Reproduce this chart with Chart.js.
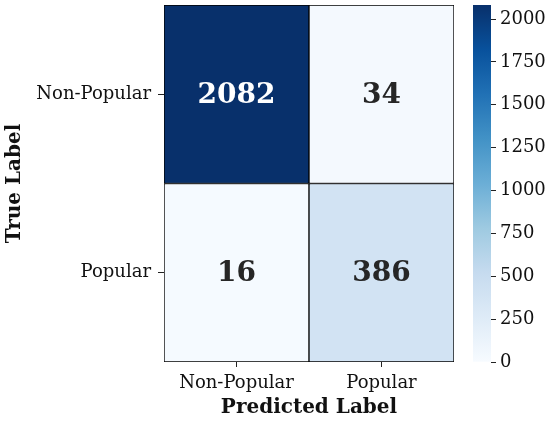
<!DOCTYPE html>
<html lang="en">
  <head>
    <meta charset="utf-8">
    <title>Confusion matrix</title>
    <style>
      body { margin: 0; background: #fff; }
      #wrap { position: relative; width: 550px; height: 422px; }
      #wrap canvas { position: absolute; top: 0; }
    </style>
  </head>
  <body>
    <div id="wrap">
      <canvas id="matrix" width="550" height="422" style="left:0"></canvas>
      <canvas id="colorbar" width="90" height="422" style="left:460px"></canvas>
    </div>

    <script src="https://cdn.jsdelivr.net/npm/chart.js@4/dist/chart.umd.min.js"></script>
    <script>
      // --- data ---
      var predictedLabels = ['Non-Popular', 'Popular'];   // columns
      var trueLabels = ['Non-Popular', 'Popular'];        // rows, top to bottom
      var rowNonPopular = [2082, 34];
      var rowPopular = [16, 386];
      var colorbarTicks = [0, 250, 500, 750, 1000, 1250, 1500, 1750, 2000];

      var matrix = [rowNonPopular, rowPopular];
      var vmax = Math.max.apply(null, rowNonPopular.concat(rowPopular));

      // matplotlib "Blues"
      var BLUES = ['#f7fbff', '#deebf7', '#c6dbef', '#9ecae1', '#6baed6', '#4292c6', '#2171b5', '#08519c', '#08306b'];
      function hexRgb(h) {
        return [parseInt(h.substr(1, 2), 16), parseInt(h.substr(3, 2), 16), parseInt(h.substr(5, 2), 16)];
      }
      function blues(t) {
        t = Math.max(0, Math.min(1, t));
        var p = t * (BLUES.length - 1);
        var i = Math.min(Math.floor(p), BLUES.length - 2);
        var f = p - i;
        var a = hexRgb(BLUES[i]), b = hexRgb(BLUES[i + 1]);
        return [0, 1, 2].map(function (k) { return Math.round(a[k] + (b[k] - a[k]) * f); });
      }
      function rgbStr(c) { return 'rgb(' + c.join(',') + ')'; }
      function luminance(c) {
        var l = c.map(function (v) {
          v = v / 255;
          return v <= 0.03928 ? v / 12.92 : Math.pow((v + 0.055) / 1.055, 2.4);
        });
        return 0.2126 * l[0] + 0.7152 * l[1] + 0.0722 * l[2];
      }

      var serif = 'DejaVu Serif';
      var textColor = '#111';

      // no extra room for half tick labels at the ends
      function noEdgePadding(s) {
        s.paddingTop = 0; s.paddingBottom = 0; s.paddingLeft = 0; s.paddingRight = 0;
      }

      // one stacked dataset per row, bottom row first; each cell is one unit tall
      var datasets = [];
      for (var r = matrix.length - 1; r >= 0; r--) {
        datasets.push({
          label: trueLabels[r],
          row: r,
          data: matrix[r].map(function () { return 1; }),
          backgroundColor: matrix[r].map(function (v) { return rgbStr(blues(v / vmax)); }),
          borderColor: '#000',
          borderWidth: 1,
          borderSkipped: false,
          barPercentage: 1,
          categoryPercentage: 1
        });
      }

      // write the counts in the middle of each cell
      var annotate = {
        id: 'annotate',
        afterDatasetsDraw: function (chart) {
          var ctx = chart.ctx;
          ctx.save();
          ctx.font = 'bold 28px "' + serif + '"';
          ctx.textAlign = 'center';
          ctx.textBaseline = 'middle';
          chart.data.datasets.forEach(function (ds, di) {
            chart.getDatasetMeta(di).data.forEach(function (bar, ci) {
              var v = matrix[ds.row][ci];
              ctx.fillStyle = luminance(blues(v / vmax)) > 0.408 ? '#262626' : '#ffffff';
              ctx.fillText(String(v), bar.x, (bar.y + bar.base) / 2 + 1);
            });
          });
          ctx.restore();
        }
      };

      new Chart(document.getElementById('matrix'), {
        type: 'bar',
        data: { labels: predictedLabels, datasets: datasets },
        plugins: [annotate],
        options: {
          responsive: false,
          animation: false,
          layout: { padding: { left: 0, top: 5, right: 96, bottom: 0 } },
          plugins: { legend: { display: false }, tooltip: { enabled: false } },
          scales: {
            x: {
              stacked: true,
              border: { display: false },
              grid: { offset: false, drawOnChartArea: false, drawTicks: true, tickLength: 5, color: '#222' },
              ticks: { color: textColor, padding: 6, font: { family: serif, size: 18 } },
              title: {
                display: true, text: 'Predicted Label', color: textColor,
                font: { family: serif, size: 20, weight: 'bold' }, padding: { top: 0, bottom: 2 }
              },
              afterFit: function (s) { s.height = 60; noEdgePadding(s); }
            },
            y: {
              stacked: true,
              min: 0,
              max: 2,
              border: { display: false },
              grid: { drawOnChartArea: false, drawTicks: true, tickLength: 6, color: '#222' },
              afterBuildTicks: function (s) { s.ticks = [{ value: 0.5 }, { value: 1.5 }]; },
              ticks: {
                color: textColor, padding: 7, font: { family: serif, size: 18 },
                callback: function (v) { return trueLabels[Math.floor(2 - v)]; }
              },
              title: {
                display: true, text: 'True Label', color: textColor,
                font: { family: serif, size: 20, weight: 'bold' }, padding: { top: 3, bottom: 0 }
              },
              afterFit: function (s) { s.width = 164; noEdgePadding(s); }
            }
          }
        }
      });

      // colour bar: one bar from 0 to vmax filled with the colormap
      new Chart(document.getElementById('colorbar'), {
        type: 'bar',
        data: {
          labels: [''],
          datasets: [{
            data: [vmax],
            borderWidth: 0,
            barPercentage: 1,
            categoryPercentage: 1,
            backgroundColor: function (c) {
              var area = c.chart.chartArea;
              if (!area) return BLUES[0];
              var yScale = c.chart.scales.y;
              var y0 = yScale.getPixelForValue(0), y1 = yScale.getPixelForValue(vmax);
              var g = c.chart.ctx.createLinearGradient(0, y0, 0, y1);
              BLUES.forEach(function (col, i) { g.addColorStop(i / (BLUES.length - 1), col); });
              return g;
            }
          }]
        },
        options: {
          responsive: false,
          animation: false,
          layout: { padding: { left: 13, top: 5, right: 0, bottom: 60 } },
          plugins: { legend: { display: false }, tooltip: { enabled: false } },
          scales: {
            x: { display: false },
            y: {
              position: 'right',
              min: 0,
              max: vmax,
              border: { display: false },
              grid: { drawOnChartArea: false, drawTicks: true, tickLength: 5, color: '#222' },
              afterBuildTicks: function (s) { s.ticks = colorbarTicks.map(function (v) { return { value: v }; }); },
              ticks: {
                color: textColor, padding: 4, font: { family: serif, size: 18 },
                callback: function (v) { return String(v); }
              },
              afterFit: function (s) { s.width = 59; noEdgePadding(s); }
            }
          }
        }
      });
    </script>
  </body>
</html>
